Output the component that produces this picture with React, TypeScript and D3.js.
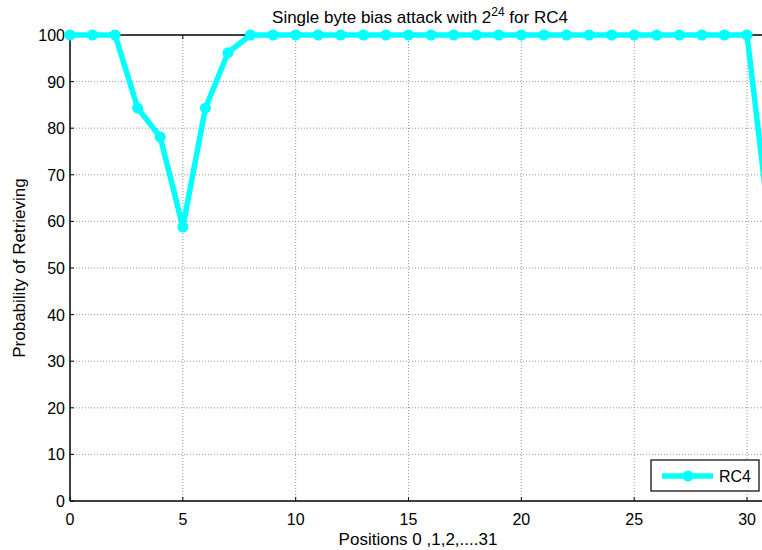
import React from "react";
import * as d3 from "d3";

// Retrieval probability (%) for each keystream byte position
const positions: number[] = d3.range(0, 32);
const probability: number[] = [
  100, 100, 100, 84.3, 78.1, 58.8, 84.3, 96.2, 100, 100,
  100, 100, 100, 100, 100, 100, 100, 100, 100, 100,
  100, 100, 100, 100, 100, 100, 100, 100, 100, 100,
  100, 59,
];
const xTicks: number[] = [0, 5, 10, 15, 20, 25, 30];
const yTicks: number[] = [0, 10, 20, 30, 40, 50, 60, 70, 80, 90, 100];
const seriesName = "RC4";

const W = 762;
const H = 550;
const plotLeft = 70;
const plotRight = 769.6;
const plotTop = 35;
const plotBottom = 501;
const font = "'Liberation Sans', Arial, Helvetica, sans-serif";
const cyan = "#00ffff";

export default function App() {
  const x = d3.scaleLinear().domain([0, 31]).range([plotLeft, plotRight]);
  const y = d3.scaleLinear().domain([0, 100]).range([plotBottom, plotTop]);
  const y0 = y(0);
  const y100 = y(100);

  const line = d3
    .line<number>()
    .x((_, i) => x(positions[i]))
    .y((d) => y(d));

  const pts = probability.map((v, i) => [x(positions[i]), y(v)] as [number, number]);
  const tickLen = 4;

  return (
    <svg
      width={W}
      height={H}
      style={{ position: "absolute", left: 0, top: 0, background: "#fff" }}
      fontFamily={font}
    >
      {/* grid */}
      <g stroke="#7a7a7a" strokeWidth={0.8} strokeDasharray="1,2">
        {xTicks.filter((t) => t !== 0).map((t) => (
          <line key={"gx" + t} x1={x(t)} x2={x(t)} y1={y0} y2={y100} />
        ))}
        {yTicks.filter((t) => t !== 0 && t !== 100).map((t) => (
          <line key={"gy" + t} x1={x(0)} x2={plotRight} y1={y(t)} y2={y(t)} />
        ))}
      </g>

      {/* axes box */}
      <g stroke="#000" strokeWidth={1.5} fill="none">
        <line x1={x(0)} x2={plotRight} y1={y0} y2={y0} />
        <line x1={x(0)} x2={plotRight} y1={y100} y2={y100} />
        <line x1={x(0)} x2={x(0)} y1={y0} y2={y100} />
      </g>

      {/* ticks */}
      <g stroke="#000" strokeWidth={1}>
        {xTicks.map((t) => (
          <g key={"tx" + t}>
            <line x1={x(t)} x2={x(t)} y1={y0} y2={y0 - tickLen} />
            <line x1={x(t)} x2={x(t)} y1={y100} y2={y100 + tickLen} />
          </g>
        ))}
        {yTicks.map((t) => (
          <line key={"ty" + t} x1={x(0)} x2={x(0) + tickLen} y1={y(t)} y2={y(t)} />
        ))}
      </g>

      {/* tick labels */}
      <g fontSize={16} fill="#000">
        {xTicks.map((t) => (
          <text key={"lx" + t} x={x(t)} y={y0 + 24} textAnchor="middle">
            {t}
          </text>
        ))}
        {yTicks.map((t) => (
          <text key={"ly" + t} x={x(0) - 5} y={y(t) + 6} textAnchor="end">
            {t}
          </text>
        ))}
      </g>

      {/* series */}
      <g>
        <path
          d={line(probability) ?? ""}
          fill="none"
          stroke={cyan}
          strokeWidth={5.5}
          strokeLinejoin="round"
        />
        {pts.map(([px, py], i) => (
          <circle key={"m" + i} cx={px} cy={py} r={5.5} fill={cyan} />
        ))}
      </g>

      {/* legend */}
      <g>
        <rect x={651} y={460} width={108} height={31} fill="#fff" stroke="#000" strokeWidth={1.2} />
        <line x1={662} x2={713} y1={476} y2={476} stroke={cyan} strokeWidth={5.5} />
        <circle cx={688} cy={476} r={5.5} fill={cyan} />
        <text x={719} y={482} fontSize={16} fill="#000">
          {seriesName}
        </text>
      </g>

      {/* title */}
      <text x={420} y={23} textAnchor="middle" fontSize={17} fill="#000">
        Single byte bias attack with 2
        <tspan fontSize={12} dy={-7}>24</tspan>
        <tspan dy={7}> for RC4</tspan>
      </text>

      {/* axis labels */}
      <text x={418} y={545} textAnchor="middle" fontSize={17} fill="#000">
        Positions 0 ,1,2,....31
      </text>
      <text
        transform={`translate(25, ${(y0 + y100) / 2}) rotate(-90)`}
        textAnchor="middle"
        fontSize={17}
        fill="#000"
      >
        Probability of Retrieving
      </text>
    </svg>
  );
}
